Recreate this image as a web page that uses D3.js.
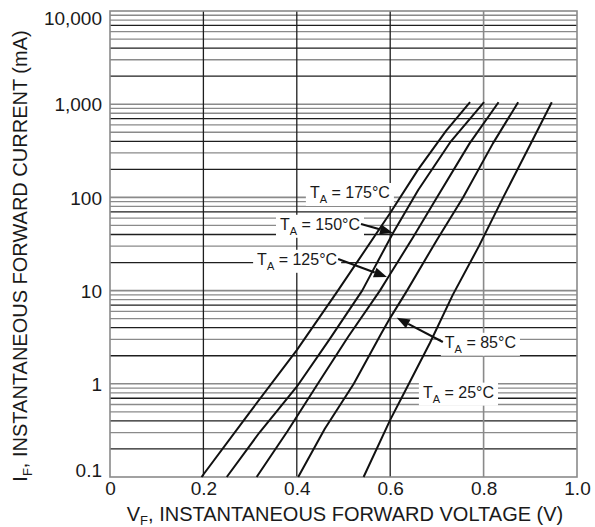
<!DOCTYPE html>
<html>
<head>
<meta charset="utf-8">
<script src="https://cdn.jsdelivr.net/npm/d3@7"></script>
<style>
  body { margin: 0; background: #fff; }
  svg { display: block; }
  text { font-family: "Liberation Sans", Arial, Helvetica, sans-serif; fill: #1a1a1a; }
</style>
</head>
<body>
<div id="chart"></div>
<script>
const width = 595;
const height = 527;

// Axis ticks ////////////////////////////////////////////
const xTicks = [0, 0.2, 0.4, 0.6, 0.8, 1.0];
const xTickLabels = ["0", "0.2", "0.4", "0.6", "0.8", "1.0"];
const yTicks = [0.1, 1, 10, 100, 1000, 10000];
const yTickLabels = ["0.1", "1", "10", "100", "1,000", "10,000"];

// Curves: VF (V) and IF (mA) //////
const seriesNames = ["175°C", "150°C", "125°C", "85°C", "25°C"];
const vf175 = [0.196, 0.30, 0.40, 0.488, 0.60, 0.66, 0.72, 0.771];
const if175 = [0.1, 0.5, 2.3, 10, 68, 200, 520, 1050];
const vf150 = [0.25, 0.32, 0.40, 0.47, 0.54, 0.606, 0.66, 0.73, 0.801];
const if150 = [0.1, 0.3, 0.93, 3, 10, 41.5, 120, 400, 1050];
const vf125 = [0.314, 0.38, 0.445, 0.51, 0.578, 0.596, 0.65, 0.70, 0.77, 0.832];
const if125 = [0.1, 0.31, 1, 3.2, 10, 14, 38, 100, 380, 1050];
const vf85 = [0.403, 0.46, 0.522, 0.58, 0.60, 0.636, 0.70, 0.756, 0.82, 0.874];
const if85 = [0.1, 0.33, 1, 3.4, 5.1, 10, 35, 100, 380, 1050];
const vf25 = [0.543, 0.60, 0.64, 0.685, 0.734, 0.79, 0.842, 0.90, 0.946];
const if25 = [0.1, 0.41, 1, 2.74, 9, 30, 100, 370, 1050];

const seriesV = [vf175, vf150, vf125, vf85, vf25];
const seriesI = [if175, if150, if125, if85, if25];

// Scales ////////////////////////////////////////////////
const plot = { left: 110, right: 577, top: 11, bottom: 477 };
const x = d3.scaleLinear().domain([0, 1]).range([plot.left, plot.right]);
const y = d3.scaleLog().domain([0.1, 10000]).range([plot.bottom, plot.top]);

const gray = "#8a8a8a";
const dark = "#1e1e1e";

const svg = d3.select("#chart").append("svg")
  .attr("width", width)
  .attr("height", height);

svg.append("rect").attr("width", width).attr("height", height).attr("fill", "#fff");

// Grid //////////////////////////////////////////////////
const grid = svg.append("g");
const darkMinor = [2, 4, 7];
const minorValues = [];
[0.1, 1, 10, 100, 1000].forEach(d => {
  for (let k = 2; k <= 9; k++) minorValues.push({ v: k * d, dark: darkMinor.includes(k) });
});
grid.selectAll(".hminor").data(minorValues).enter().append("line")
  .attr("x1", plot.left).attr("x2", plot.right)
  .attr("y1", d => y(d.v)).attr("y2", d => y(d.v))
  .attr("stroke", d => d.dark ? dark : gray)
  .attr("stroke-width", 1.3);
grid.selectAll(".hmajor").data([1, 10, 100, 1000]).enter().append("line")
  .attr("x1", plot.left).attr("x2", plot.right)
  .attr("y1", d => y(d)).attr("y2", d => y(d))
  .attr("stroke", gray).attr("stroke-width", 1.6);
grid.selectAll(".vline").data([0.2, 0.4, 0.6, 0.8]).enter().append("line")
  .attr("x1", d => x(d)).attr("x2", d => x(d))
  .attr("y1", plot.top).attr("y2", plot.bottom)
  .attr("stroke", d => d === 0.8 ? gray : dark)
  .attr("stroke-width", d => d === 0.8 ? 1.6 : 1.3);

// Border
svg.append("rect")
  .attr("x", plot.left).attr("y", plot.top)
  .attr("width", plot.right - plot.left).attr("height", plot.bottom - plot.top)
  .attr("fill", "none").attr("stroke", gray).attr("stroke-width", 1.6);

// Tick labels ///////////////////////////////////////////
const xAxis = d3.axisBottom(x).tickValues(xTicks)
  .tickFormat((d, i) => xTickLabels[i]).tickSize(0).tickPadding(5);
svg.append("g").attr("transform", `translate(0,${plot.bottom})`).call(xAxis)
  .call(g => g.select(".domain").remove())
  .selectAll("text")
  .attr("font-size", 19).attr("font-family", null).attr("fill", dark);

const yAxis = d3.axisLeft(y).tickValues(yTicks)
  .tickFormat((d, i) => yTickLabels[i]).tickSize(0).tickPadding(8);
svg.append("g").attr("transform", `translate(${plot.left},0)`).call(yAxis)
  .call(g => g.select(".domain").remove())
  .selectAll("text")
  .attr("font-size", 19).attr("font-family", null).attr("fill", dark)
  .attr("dy", (d, i) => i === 0 ? "-0.05em" : i === yTicks.length - 1 ? "0.7em" : "0.35em");

// Axis titles ///////////////////////////////////////////
const xTitle = svg.append("text")
  .attr("x", 345).attr("y", 521)
  .attr("text-anchor", "middle").attr("font-size", 20);
xTitle.append("tspan").text("V");
xTitle.append("tspan").attr("font-size", 13).attr("dy", 4).text("F");
xTitle.append("tspan").attr("dy", -4).text(", INSTANTANEOUS FORWARD VOLTAGE (V)");

const yTitle = svg.append("text")
  .attr("transform", "translate(27,256) rotate(-90)")
  .attr("text-anchor", "middle").attr("font-size", 20);
yTitle.append("tspan").text("I");
yTitle.append("tspan").attr("font-size", 13).attr("dy", 5).text("F");
yTitle.append("tspan").attr("dy", -5).text(", INSTANTANEOUS FORWARD CURRENT (mA)");

// Annotations: label anchor (left edge, middle) and arrow tip in data units
const annotations = [
  { name: seriesNames[0], v: 0.428, i: 111, tip: null },
  { name: seriesNames[1], v: 0.364, i: 50.6, tip: [0.606, 41.5], from: "end" },
  { name: seriesNames[2], v: 0.315, i: 21.3, tip: [0.593, 14], from: "end" },
  { name: seriesNames[3], v: 0.717, i: 2.74, tip: [0.614, 5.1], from: "start" },
  { name: seriesNames[4], v: 0.670, i: 0.80, tip: null }
];

const labelLayer = svg.append("g");
const labelBoxes = [];
annotations.forEach(a => {
  const g = labelLayer.append("g");
  const t = g.append("text")
    .attr("x", x(a.v)).attr("y", y(a.i)).attr("dy", "0.3em")
    .attr("font-size", 16);
  t.append("tspan").text("T");
  t.append("tspan").attr("font-size", 11).attr("dy", 5).text("A");
  t.append("tspan").attr("dy", -5).text(" = " + a.name);
  const bb = t.node().getBBox();
  g.insert("rect", "text")
    .attr("x", bb.x - 4).attr("y", bb.y - 1)
    .attr("width", bb.width + 8).attr("height", bb.height + 2)
    .attr("fill", "#fff");
  labelBoxes.push(bb);
});

// Curves ////////////////////////////////////////////////
const line = d3.line().x(d => x(d[0])).y(d => y(d[1]));
svg.append("g").selectAll("path")
  .data(seriesV.map((vs, k) => vs.map((v, j) => [v, seriesI[k][j]])))
  .enter().append("path")
  .attr("d", line)
  .attr("fill", "none")
  .attr("stroke", "#111")
  .attr("stroke-width", 2)
  .attr("stroke-linejoin", "round");

// Arrows ////////////////////////////////////////////////
const arrows = svg.append("g");
annotations.forEach((a, k) => {
  if (!a.tip) return;
  const bb = labelBoxes[k];
  const x0 = a.from === "end" ? bb.x + bb.width + 1 : bb.x - 2;
  const y0 = y(a.i) - 1;
  const x1 = x(a.tip[0]);
  const y1 = y(a.tip[1]);
  const ang = Math.atan2(y1 - y0, x1 - x0);
  const headLen = 13, headW = 5;
  const bx = x1 - headLen * Math.cos(ang);
  const by = y1 - headLen * Math.sin(ang);
  arrows.append("line")
    .attr("x1", x0).attr("y1", y0).attr("x2", bx).attr("y2", by)
    .attr("stroke", "#111").attr("stroke-width", 2.2);
  const px = -Math.sin(ang) * headW, py = Math.cos(ang) * headW;
  arrows.append("path")
    .attr("d", `M${x1},${y1}L${bx + px},${by + py}L${bx - px},${by - py}Z`)
    .attr("fill", "#111");
});
</script>
</body>
</html>
